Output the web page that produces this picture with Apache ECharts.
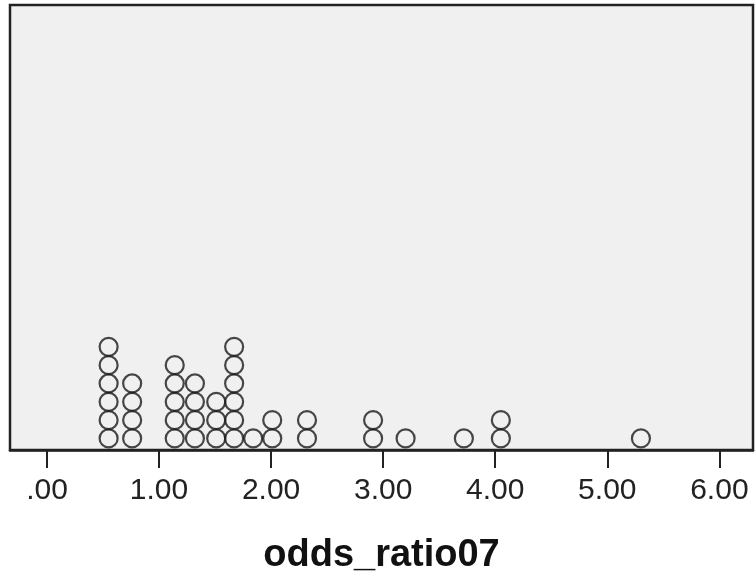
<!DOCTYPE html>
<html>
<head>
<meta charset="utf-8">
<script src="https://cdn.jsdelivr.net/npm/echarts@6/dist/echarts.min.js"></script>
<style>
  html, body { margin: 0; padding: 0; background: #fff; }
  #chart { width: 756px; height: 579px; }
</style>
</head>
<body>
<div id="chart"></div>
<script>
// dot columns: odds ratio value and number of cases stacked at it
const oddsValues = [0.55, 0.76, 1.14, 1.32, 1.51, 1.67, 1.84, 2.01, 2.32, 2.91, 3.20, 3.72, 4.05, 5.30]
const caseCounts = [6, 4, 5, 4, 3, 6, 1, 2, 2, 2, 1, 1, 2, 1]
const tickValues = [0, 1, 2, 3, 4, 5, 6]

const points = []
oddsValues.forEach((v, i) => {
  for (let k = 1; k <= caseCounts[i]; k += 1) points.push([v, k - 0.5])
})

function formatTick(value) {
  const s = Number(value).toFixed(2)
  return s.startsWith('0.') ? s.slice(1) : s
}

const chart = echarts.init(document.getElementById('chart'))
chart.setOption({
  animation: false,
  grid: {
    left: 10, right: 3, top: 5, bottom: 129,
    outerBoundsMode: 'none',
    containLabel: false,
    show: true,
    backgroundColor: '#f0f0f0',
    borderColor: '#222',
    borderWidth: 2.5,
  },
  xAxis: {
    type: 'value',
    min: -0.33,
    max: 6.30,
    splitLine: { show: false },
    axisLine: { show: true, onZero: false, lineStyle: { color: '#222', width: 2.5 } },
    axisTick: { show: true, length: 18, customValues: tickValues, lineStyle: { color: '#222', width: 2 } },
    axisLabel: {
      customValues: tickValues,
      margin: 26,
      color: '#222',
      fontSize: 30,
      fontFamily: '"Liberation Sans", Arial, sans-serif',
      formatter: formatTick,
    },
    name: 'odds_ratio07',
    nameLocation: 'middle',
    nameGap: 87,
    nameTextStyle: {
      color: '#111',
      fontSize: 38,
      fontWeight: 'bold',
      fontFamily: '"Liberation Sans", Arial, sans-serif',
    },
  },
  yAxis: {
    type: 'value',
    min: -0.13,
    max: 24.15,
    show: false,
  },
  series: [
    {
      type: 'scatter',
      symbol: 'circle',
      symbolSize: 18,
      itemStyle: { color: 'rgba(0,0,0,0)', borderColor: '#1a1a1a', borderWidth: 2.2 },
      data: points,
    },
  ],
})
</script>
</body>
</html>
